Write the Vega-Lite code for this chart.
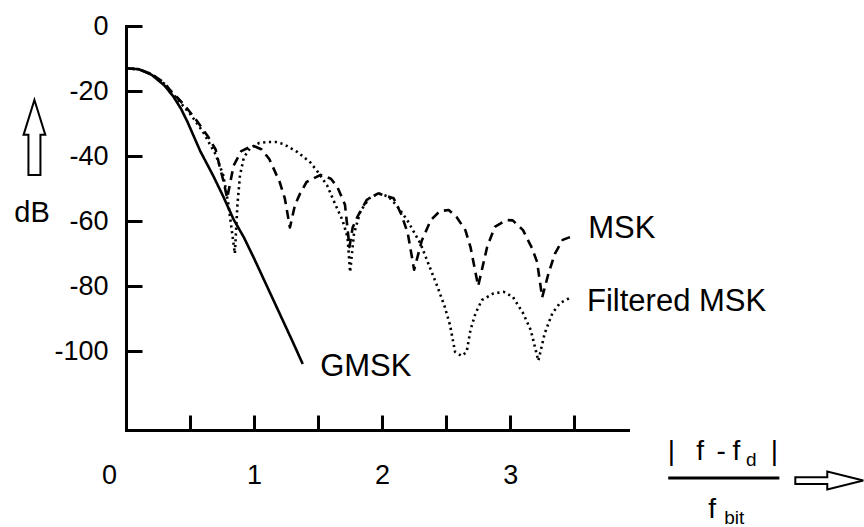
{
  "$schema": "https://vega.github.io/schema/vega-lite/v6.json",
  "width": 502,
  "height": 404,
  "autosize": "none",
  "padding": {"left": 126, "top": 26, "right": 236, "bottom": 97},
  "background": "white",
  "config": {"view": {"stroke": null}, "font": "Liberation Sans", "text": {"font": "Liberation Sans", "color": "black"}},
  "encoding": {
    "x": {"field": "f", "type": "quantitative", "scale": {"domain": [0, 3.92], "nice": false, "zero": false},
      "axis": {"values": [0, 0.5, 1, 1.5, 2, 2.5, 3, 3.5], "title": null, "grid": false, "tickSize": -15, "tickWidth": 3, "tickColor": "black", "domainWidth": 3, "domainColor": "black", "domainCap": "square", "labelExpr": "datum.value % 1 == 0 ? '' + datum.value : ''", "labelFont": "Liberation Sans", "labelFontSize": 27, "labelColor": "black", "labelPadding": 47, "labelOffset": {"condition": {"test": "datum.value == 0", "value": -17}, "value": 0}, "labelFlush": false, "labelOverlap": false}},
    "y": {"field": "dB", "type": "quantitative", "scale": {"domain": [-124.3, 0], "nice": false, "zero": false},
      "axis": {"values": [0, -20, -40, -60, -80, -100], "title": null, "grid": false, "tickSize": -16, "tickWidth": 3, "tickColor": "black", "domainWidth": 3, "domainColor": "black", "domainCap": "square", "labelExpr": "'' + datum.value", "labelFont": "Liberation Sans", "labelFontSize": 27, "labelColor": "black", "labelPadding": 34, "labelFlush": false, "labelOverlap": false}}
  },
  "layer": [
    {
      "data": {"values": [
        {"series": "GMSK", "f": 0, "dB": -13}, {"series": "GMSK", "f": 0.1, "dB": -13.3}, {"series": "GMSK", "f": 0.2, "dB": -15}, {"series": "GMSK", "f": 0.3, "dB": -18.3}, {"series": "GMSK", "f": 0.37, "dB": -21.7}, {"series": "GMSK", "f": 0.43, "dB": -25.5}, {"series": "GMSK", "f": 0.48, "dB": -29.5}, {"series": "GMSK", "f": 0.58, "dB": -38.5}, {"series": "GMSK", "f": 0.68, "dB": -46}, {"series": "GMSK", "f": 0.76, "dB": -52.5}, {"series": "GMSK", "f": 0.84, "dB": -59.5}, {"series": "GMSK", "f": 0.92, "dB": -65}, {"series": "GMSK", "f": 1.0, "dB": -71.5}, {"series": "GMSK", "f": 1.1, "dB": -80}, {"series": "GMSK", "f": 1.2, "dB": -88.5}, {"series": "GMSK", "f": 1.3, "dB": -97}, {"series": "GMSK", "f": 1.38, "dB": -104},
        {"series": "MSK", "f": 0, "dB": -13}, {"series": "MSK", "f": 0.1, "dB": -13.3}, {"series": "MSK", "f": 0.2, "dB": -14.8}, {"series": "MSK", "f": 0.3, "dB": -17.5}, {"series": "MSK", "f": 0.34, "dB": -19.5}, {"series": "MSK", "f": 0.4, "dB": -22}, {"series": "MSK", "f": 0.47, "dB": -25}, {"series": "MSK", "f": 0.55, "dB": -29}, {"series": "MSK", "f": 0.64, "dB": -34}, {"series": "MSK", "f": 0.7, "dB": -38}, {"series": "MSK", "f": 0.73, "dB": -43}, {"series": "MSK", "f": 0.76, "dB": -47.5}, {"series": "MSK", "f": 0.79, "dB": -53}, {"series": "MSK", "f": 0.81, "dB": -49}, {"series": "MSK", "f": 0.84, "dB": -43}, {"series": "MSK", "f": 0.9, "dB": -38.5}, {"series": "MSK", "f": 0.99, "dB": -36.8}, {"series": "MSK", "f": 1.06, "dB": -38}, {"series": "MSK", "f": 1.12, "dB": -41}, {"series": "MSK", "f": 1.2, "dB": -48}, {"series": "MSK", "f": 1.24, "dB": -53}, {"series": "MSK", "f": 1.28, "dB": -62}, {"series": "MSK", "f": 1.32, "dB": -55}, {"series": "MSK", "f": 1.36, "dB": -51.5}, {"series": "MSK", "f": 1.41, "dB": -48}, {"series": "MSK", "f": 1.52, "dB": -45.8}, {"series": "MSK", "f": 1.6, "dB": -47}, {"series": "MSK", "f": 1.65, "dB": -49.5}, {"series": "MSK", "f": 1.71, "dB": -55}, {"series": "MSK", "f": 1.745, "dB": -68}, {"series": "MSK", "f": 1.77, "dB": -62}, {"series": "MSK", "f": 1.81, "dB": -58.5}, {"series": "MSK", "f": 1.88, "dB": -53.5}, {"series": "MSK", "f": 1.97, "dB": -51.5}, {"series": "MSK", "f": 2.09, "dB": -53}, {"series": "MSK", "f": 2.15, "dB": -58}, {"series": "MSK", "f": 2.2, "dB": -63.7}, {"series": "MSK", "f": 2.25, "dB": -75}, {"series": "MSK", "f": 2.31, "dB": -66}, {"series": "MSK", "f": 2.38, "dB": -59.7}, {"series": "MSK", "f": 2.45, "dB": -57}, {"series": "MSK", "f": 2.52, "dB": -56.6}, {"series": "MSK", "f": 2.58, "dB": -58.7}, {"series": "MSK", "f": 2.65, "dB": -62.8}, {"series": "MSK", "f": 2.69, "dB": -68}, {"series": "MSK", "f": 2.75, "dB": -80}, {"series": "MSK", "f": 2.82, "dB": -68}, {"series": "MSK", "f": 2.88, "dB": -61.8}, {"series": "MSK", "f": 2.97, "dB": -59.7}, {"series": "MSK", "f": 3.02, "dB": -59.8}, {"series": "MSK", "f": 3.1, "dB": -62.8}, {"series": "MSK", "f": 3.17, "dB": -68.3}, {"series": "MSK", "f": 3.21, "dB": -72.6}, {"series": "MSK", "f": 3.25, "dB": -83.5}, {"series": "MSK", "f": 3.3, "dB": -76}, {"series": "MSK", "f": 3.35, "dB": -70}, {"series": "MSK", "f": 3.41, "dB": -65.8}, {"series": "MSK", "f": 3.51, "dB": -64.3},
        {"series": "Filtered MSK", "f": 0, "dB": -13}, {"series": "Filtered MSK", "f": 0.1, "dB": -13.3}, {"series": "Filtered MSK", "f": 0.2, "dB": -14.8}, {"series": "Filtered MSK", "f": 0.3, "dB": -17.8}, {"series": "Filtered MSK", "f": 0.4, "dB": -22.5}, {"series": "Filtered MSK", "f": 0.5, "dB": -27}, {"series": "Filtered MSK", "f": 0.6, "dB": -32.5}, {"series": "Filtered MSK", "f": 0.7, "dB": -39.5}, {"series": "Filtered MSK", "f": 0.76, "dB": -46}, {"series": "Filtered MSK", "f": 0.8, "dB": -55}, {"series": "Filtered MSK", "f": 0.83, "dB": -64}, {"series": "Filtered MSK", "f": 0.85, "dB": -70}, {"series": "Filtered MSK", "f": 0.87, "dB": -55}, {"series": "Filtered MSK", "f": 0.89, "dB": -46}, {"series": "Filtered MSK", "f": 0.92, "dB": -40.5}, {"series": "Filtered MSK", "f": 0.97, "dB": -37.5}, {"series": "Filtered MSK", "f": 1.04, "dB": -36}, {"series": "Filtered MSK", "f": 1.1, "dB": -35.7}, {"series": "Filtered MSK", "f": 1.17, "dB": -35.7}, {"series": "Filtered MSK", "f": 1.23, "dB": -36.3}, {"series": "Filtered MSK", "f": 1.34, "dB": -38.8}, {"series": "Filtered MSK", "f": 1.44, "dB": -42}, {"series": "Filtered MSK", "f": 1.5, "dB": -45}, {"series": "Filtered MSK", "f": 1.57, "dB": -49}, {"series": "Filtered MSK", "f": 1.63, "dB": -54.5}, {"series": "Filtered MSK", "f": 1.69, "dB": -59.7}, {"series": "Filtered MSK", "f": 1.73, "dB": -65}, {"series": "Filtered MSK", "f": 1.75, "dB": -75.7}, {"series": "Filtered MSK", "f": 1.78, "dB": -64}, {"series": "Filtered MSK", "f": 1.83, "dB": -57}, {"series": "Filtered MSK", "f": 1.9, "dB": -53}, {"series": "Filtered MSK", "f": 1.97, "dB": -51.5}, {"series": "Filtered MSK", "f": 2.05, "dB": -52.5}, {"series": "Filtered MSK", "f": 2.12, "dB": -55.5}, {"series": "Filtered MSK", "f": 2.2, "dB": -60}, {"series": "Filtered MSK", "f": 2.3, "dB": -67}, {"series": "Filtered MSK", "f": 2.35, "dB": -72}, {"series": "Filtered MSK", "f": 2.43, "dB": -80}, {"series": "Filtered MSK", "f": 2.49, "dB": -86.5}, {"series": "Filtered MSK", "f": 2.53, "dB": -92}, {"series": "Filtered MSK", "f": 2.57, "dB": -100.3}, {"series": "Filtered MSK", "f": 2.62, "dB": -101.5}, {"series": "Filtered MSK", "f": 2.66, "dB": -100.3}, {"series": "Filtered MSK", "f": 2.69, "dB": -93.5}, {"series": "Filtered MSK", "f": 2.73, "dB": -88.3}, {"series": "Filtered MSK", "f": 2.78, "dB": -84.3}, {"series": "Filtered MSK", "f": 2.87, "dB": -82.3}, {"series": "Filtered MSK", "f": 2.95, "dB": -81.8}, {"series": "Filtered MSK", "f": 3.02, "dB": -83.3}, {"series": "Filtered MSK", "f": 3.1, "dB": -88.3}, {"series": "Filtered MSK", "f": 3.16, "dB": -93.5}, {"series": "Filtered MSK", "f": 3.22, "dB": -103}, {"series": "Filtered MSK", "f": 3.27, "dB": -94.5}, {"series": "Filtered MSK", "f": 3.33, "dB": -88.3}, {"series": "Filtered MSK", "f": 3.39, "dB": -85.2}, {"series": "Filtered MSK", "f": 3.48, "dB": -83.4}
      ]},
      "mark": {"type": "line", "strokeWidth": 2.6, "color": "black", "strokeCap": "butt", "strokeJoin": "round"},
      "encoding": {
        "detail": {"field": "series"},
        "strokeDash": {"field": "series", "type": "nominal", "scale": {"domain": ["GMSK", "MSK", "Filtered MSK"], "range": [[1, 0], [9, 6], [2.2, 3.6]]}, "legend": null}
      }
    },
    {
      "data": {"values": [
        {"f": 3.61, "dB": -62.5, "t": "MSK"},
        {"f": 3.6, "dB": -84.9, "t": "Filtered MSK"},
        {"f": 1.516, "dB": -104.8, "t": "GMSK"}
      ]},
      "mark": {"type": "text", "align": "left", "baseline": "middle", "fontSize": 31, "font": "Liberation Sans", "color": "black"},
      "encoding": {"text": {"field": "t"}}
    },
    {
      "data": {"values": [{"f": -0.734, "dB": -57.4, "t": "dB"}]},
      "mark": {"type": "text", "align": "center", "baseline": "middle", "fontSize": 29, "font": "Liberation Sans", "color": "black"},
      "encoding": {"text": {"field": "t"}}
    },
    {
      "data": {"values": [{"f": -0.715, "dB": -34.3}]},
      "mark": {"type": "point", "shape": "M0,-1L0.29,-0.07L0.16,-0.07L0.16,1L-0.16,1L-0.16,-0.07L-0.29,-0.07Z", "size": 5625, "filled": false, "stroke": "black", "strokeWidth": 2, "opacity": 1},
      "encoding": {}
    },
    {
      "data": {"values": [{"f": 5.492, "dB": -139.85}]},
      "mark": {"type": "point", "shape": "M1,0L-0.06,0.265L-0.06,0.1L-1,0.1L-1,-0.1L-0.06,-0.1L-0.06,-0.265Z", "size": 4624, "filled": false, "stroke": "black", "strokeWidth": 2, "opacity": 1},
      "encoding": {}
    },
    {
      "data": {"values": [
        {"f": 4.258, "dB": -133.5, "t": "|"},
        {"f": 4.484, "dB": -133.5, "t": "f"},
        {"f": 4.648, "dB": -133.5, "t": "-"},
        {"f": 4.766, "dB": -133.5, "t": "f"},
        {"f": 5.0625, "dB": -133.5, "t": "|"},
        {"f": 4.578, "dB": -151.4, "t": "f"}
      ]},
      "mark": {"type": "text", "align": "center", "baseline": "alphabetic", "fontSize": 28, "font": "Liberation Sans", "color": "black"},
      "encoding": {"text": {"field": "t"}}
    },
    {
      "data": {"values": [
        {"f": 4.883, "dB": -135.4, "t": "d"},
        {"f": 4.75, "dB": -153.3, "t": "bit"}
      ]},
      "mark": {"type": "text", "align": "center", "baseline": "alphabetic", "fontSize": 19, "font": "Liberation Sans", "color": "black"},
      "encoding": {"text": {"field": "t"}}
    },
    {
      "data": {"values": [{"f": 4.234, "f2": 5.102, "dB": -139.1}]},
      "mark": {"type": "rule", "strokeWidth": 3, "color": "black"},
      "encoding": {"x2": {"field": "f2"}}
    }
  ]
}
